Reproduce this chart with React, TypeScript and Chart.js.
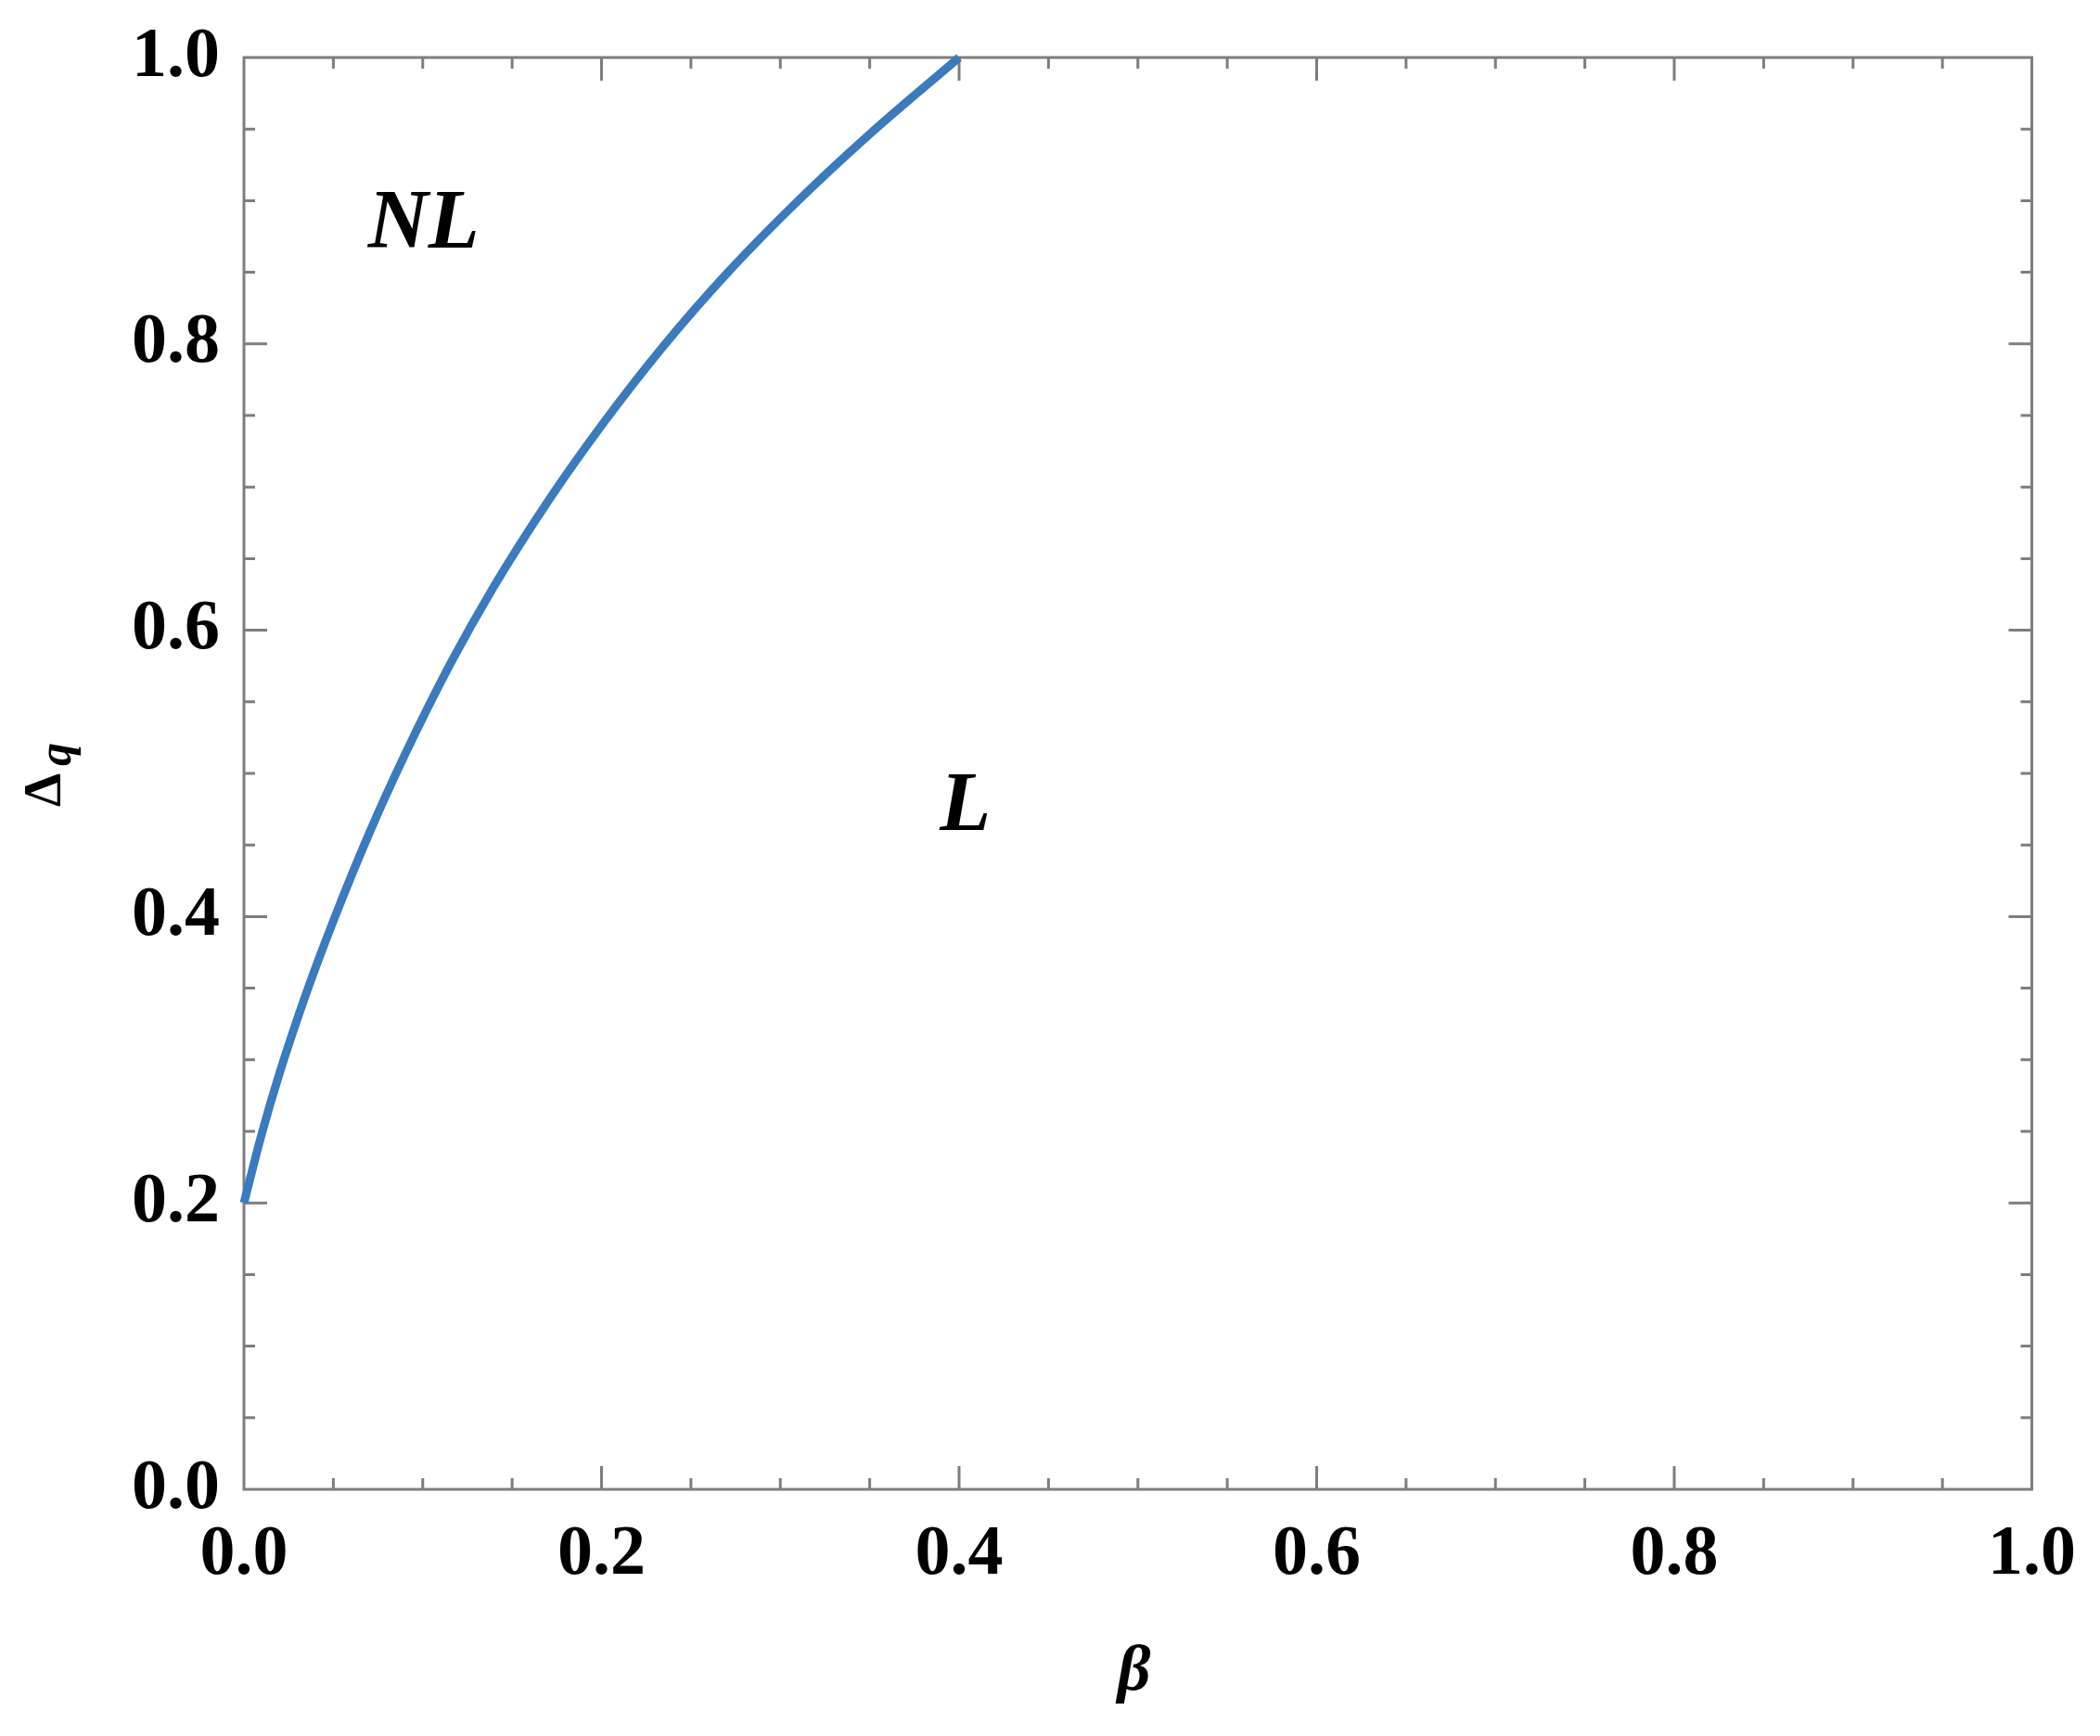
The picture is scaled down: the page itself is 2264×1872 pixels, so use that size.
import React, { useEffect, useRef } from "react";
import { Chart, registerables } from "chart.js";

Chart.register(...registerables);

// Phase boundary Δq(β)
const betaValues = [0, 0.01, 0.02, 0.035, 0.05, 0.07, 0.09, 0.115, 0.14, 0.17, 0.2, 0.235, 0.27, 0.31, 0.35, 0.4];
const deltaValues = [0.2, 0.2485, 0.291, 0.347, 0.397, 0.458, 0.513, 0.5755, 0.631, 0.69, 0.743, 0.799, 0.849, 0.9, 0.9465, 1.0];

const xTickValues = [0, 0.2, 0.4, 0.6, 0.8, 1.0];
const yTickValues = [0, 0.2, 0.4, 0.6, 0.8, 1.0];
const minorStep = 0.05;

const regionLabels = ["NL", "L"];
const regionBeta = [0.1005, 0.4035];
const regionDeltaBaseline = [0.8672, 0.4605];

const xTitle = "β";
const yTitleMain = "Δ";
const yTitleSub = "q";

const SERIF = '"Liberation Serif", "Times New Roman", serif';

const framePlugin = {
  id: "framePlugin",
  beforeDatasetsDraw(chart: any) {
    const { ctx, chartArea } = chart;
    const xs = chart.scales.x;
    const ys = chart.scales.y;
    const { left, right, top, bottom } = chartArea;
    ctx.save();
    ctx.strokeStyle = "#7d7d7d";
    ctx.lineWidth = 3;
    ctx.strokeRect(left, top, right - left, bottom - top);
    const major = 25;
    const minor = 12;
    const n = Math.round(1 / minorStep);
    ctx.beginPath();
    for (let i = 1; i < n; i++) {
      const v = i * minorStep;
      const isMajor = i % 4 === 0;
      const len = isMajor ? major : minor;
      const px = xs.getPixelForValue(v);
      ctx.moveTo(px, bottom);
      ctx.lineTo(px, bottom - len);
      ctx.moveTo(px, top);
      ctx.lineTo(px, top + len);
      const py = ys.getPixelForValue(v);
      ctx.moveTo(left, py);
      ctx.lineTo(left + len, py);
      ctx.moveTo(right, py);
      ctx.lineTo(right - len, py);
    }
    ctx.stroke();
    ctx.restore();
  },
  afterDraw(chart: any) {
    const { ctx, chartArea } = chart;
    const xs = chart.scales.x;
    const ys = chart.scales.y;
    ctx.save();
    ctx.fillStyle = "#000";
    // region labels
    ctx.font = `italic bold 90px ${SERIF}`;
    ctx.textAlign = "center";
    ctx.textBaseline = "alphabetic";
    regionLabels.forEach((t, i) => {
      ctx.fillText(t, xs.getPixelForValue(regionBeta[i]), ys.getPixelForValue(regionDeltaBaseline[i]));
    });
    // x title
    ctx.font = `italic bold 70px ${SERIF}`;
    ctx.textAlign = "center";
    ctx.fillText(xTitle, (chartArea.left + chartArea.right) / 2 - 4, 1822);
    // y title (rotated)
    const cy = (chartArea.top + chartArea.bottom) / 2;
    ctx.translate(56, cy - 2);
    ctx.rotate(-Math.PI / 2);
    ctx.textAlign = "left";
    ctx.font = `bold 58px ${SERIF}`;
    ctx.fillText(yTitleMain, -38, 9);
    ctx.font = `italic bold 50px ${SERIF}`;
    ctx.fillText(yTitleSub, 6, 20);
    ctx.restore();
  },
};

export default function App() {
  const canvasRef = useRef<HTMLCanvasElement | null>(null);

  useEffect(() => {
    const canvas = canvasRef.current;
    if (!canvas) return;
    const chart = new Chart(canvas, {
      type: "line",
      data: {
        datasets: [
          {
            data: betaValues.map((b, i) => ({ x: b, y: deltaValues[i] })),
            borderColor: "#3a7bbf",
            borderWidth: 9,
            pointRadius: 0,
            fill: false,
            cubicInterpolationMode: "monotone",
            clip: 6,
          } as any,
        ],
      },
      options: {
        responsive: false,
        animation: false,
        layout: { padding: { left: 0, top: 62, right: 71, bottom: 0 } },
        plugins: { legend: { display: false }, tooltip: { enabled: false } },
        scales: {
          x: {
            type: "linear",
            min: 0,
            max: 1,
            grid: { display: false, drawTicks: false },
            border: { display: false },
            afterBuildTicks: (s: any) => {
              s.ticks = xTickValues.map((v) => ({ value: v }));
            },
            afterFit: (s: any) => {
              s.height = 266;
            },
            ticks: {
              padding: 26,
              color: "#000",
              font: { family: SERIF, weight: "bold", size: 76 },
              callback: (v: any) => Number(v).toFixed(1),
              maxRotation: 0,
              autoSkip: false,
            },
          },
          y: {
            type: "linear",
            min: 0,
            max: 1,
            grid: { display: false, drawTicks: false },
            border: { display: false },
            afterBuildTicks: (s: any) => {
              s.ticks = yTickValues.map((v) => ({ value: v }));
            },
            afterFit: (s: any) => {
              s.width = 263;
            },
            ticks: {
              padding: 26,
              color: "#000",
              font: { family: SERIF, weight: "bold", size: 76, lineHeight: 0.8 },
              callback: (v: any) => Number(v).toFixed(1),
              autoSkip: false,
            },
          },
        },
      } as any,
      plugins: [framePlugin],
    });
    return () => chart.destroy();
  }, []);

  return (
    <div style={{ position: "absolute", left: 0, top: 0, width: 2264, height: 1872, background: "#fff" }}>
      <canvas ref={canvasRef} width={2264} height={1872} style={{ width: 2264, height: 1872, display: "block" }} />
    </div>
  );
}
